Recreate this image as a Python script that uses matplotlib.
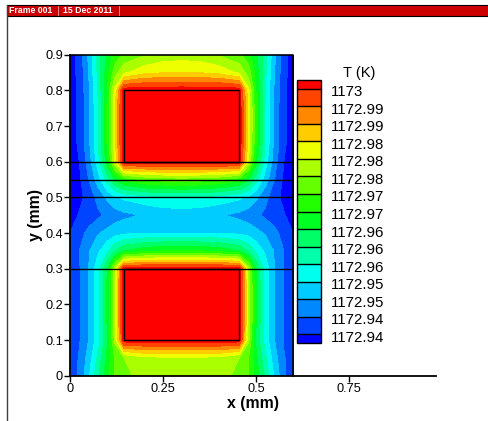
import numpy as np
import matplotlib.pyplot as plt
from matplotlib.colors import hsv_to_rgb
from matplotlib.patches import Rectangle
from matplotlib.lines import Line2D
from matplotlib.transforms import ScaledTranslation

plt.rcParams['font.family'] = ['Liberation Sans', 'DejaVu Sans']

# grid (left half, mirrored about x = 0.3)
# values are in "band units": band k lies between level k and k+1
x_half = [0, 0.025, 0.05, 0.075, 0.1, 0.12, 0.145, 0.2, 0.25, 0.3]
y_rows = [0, 0.05, 0.1, 0.15, 0.2, 0.25, 0.3, 0.35, 0.4, 0.45,
          0.5, 0.55, 0.6, 0.65, 0.7, 0.75, 0.8, 0.85, 0.9]
band_half = [
    [1.3, 2.2, 3.8, 5.8, 7.6, 9.0, 9.8, 10.3, 10.4, 10.4],
    [1.3, 2.1, 3.4, 5.2, 7.3, 9.0, 10.0, 10.7, 10.8, 10.8],
    [1.2, 1.9, 3.0, 4.5, 6.8, 10.2, 15.6, 15.7, 15.7, 15.7],
    [1.2, 1.9, 3.05, 4.6, 7.1, 10.7, 15.8, 16, 16, 16],
    [1.2, 1.9, 3.05, 4.6, 7.1, 10.7, 15.8, 16, 16, 16],
    [1.2, 1.9, 3.05, 4.6, 7.1, 10.7, 15.8, 16, 16, 16],
    [1.2, 1.9, 3.0, 4.6, 7.0, 10.5, 15.6, 15.7, 15.7, 15.7],
    [1.1, 2.0, 2.9, 3.8, 4.8, 5.9, 7.0, 7.7, 8.0, 8.0],
    [1.0, 1.6, 2.3, 2.9, 3.3, 3.6, 3.8, 3.95, 4.0, 4.0],
    [0.5, 1.1, 1.4, 1.8, 2.2, 2.5, 2.75, 3.1, 3.4, 3.5],
    [0.2, 0.7, 1.4, 2.3, 3.2, 3.8, 4.2, 4.6, 4.8, 4.85],
    [0.3, 0.8, 2.0, 3.5, 5.4, 7.0, 8.3, 9.1, 9.4, 9.5],
    [0.4, 1.0, 2.4, 4.5, 7.5, 10.8, 15.6, 15.7, 15.7, 15.7],
    [0.4, 1.2, 2.7, 4.9, 8.1, 11.6, 15.8, 16, 16, 16],
    [0.4, 1.2, 2.7, 4.9, 8.1, 11.7, 15.8, 16, 16, 16],
    [0.4, 1.2, 2.7, 4.9, 8.1, 11.7, 15.8, 16, 16, 16],
    [0.4, 1.2, 2.8, 5.0, 8.0, 11.2, 15.6, 15.7, 15.7, 15.7],
    [0.5, 1.3, 3.0, 5.2, 7.6, 9.5, 10.8, 11.7, 11.95, 12.0],
    [0.5, 1.3, 3.2, 5.4, 7.2, 8.4, 9.2, 9.9, 10.4, 10.5],
]
levels = list(range(1, 16))
level_labels = ['1172.94', '1172.94', '1172.95', '1172.95', '1172.96',
                '1172.96', '1172.96', '1172.97', '1172.97', '1172.98',
                '1172.98', '1172.98', '1172.99', '1172.99', '1173']
heaters = [(0.145, 0.1, 0.31, 0.2), (0.145, 0.6, 0.31, 0.2)]
lines_y = [0.3, 0.5, 0.55, 0.6]

# tecplot style rainbow, 16 bands from blue to red
colors = [hsv_to_rgb((240 * (15 - k) / 15 / 360, 1, 1)) for k in range(16)]

Zh = np.array(band_half)
Z = np.hstack([Zh, Zh[:, -2::-1]])
X = np.array(x_half + [0.6 - x for x in reversed(x_half[:-1])])
Y = np.array(y_rows)

W, H = 489, 421
fig = plt.figure(figsize=(W / 100, H / 100), dpi=100)
ax = fig.add_axes([70 / W, 1 - 375.7 / H, 366 / W, 321 / H])

cs = ax.contourf(X, Y, Z, levels=levels, colors=colors, extend='both')

for x0, y0, w, h in heaters:
    ax.add_patch(Rectangle((x0, y0), w, h, fill=False, ec='black', lw=1))
ax.hlines(lines_y, 0, 0.6, color='black', lw=1)
ax.plot([0, 0.6, 0.6], [0.9, 0.9, 0], color='black', lw=1.2, clip_on=False)

ax.set_xlim(0, 0.984)
ax.set_ylim(0, 0.9)
for s in ['top', 'right']:
    ax.spines[s].set_visible(False)
for s in ['left', 'bottom']:
    ax.spines[s].set_linewidth(1.3)
ax.set_xticks([0, 0.25, 0.5, 0.75])
ax.set_xticklabels(['0', '0.25', '0.5', '0.75'])
ax.set_yticks(np.arange(0, 0.91, 0.1))
ax.set_yticklabels(['0', '0.1', '0.2', '0.3', '0.4', '0.5', '0.6', '0.7', '0.8', '0.9'])
ax.tick_params(direction='out', length=4, width=1, labelsize=9.2, pad=1)
ax.set_xlabel('x (mm)', fontsize=11.4, fontweight='bold', labelpad=1)
ax.set_ylabel('y (mm)', fontsize=11.4, fontweight='bold', labelpad=2)

# legend
cax = fig.add_axes([297 / W, 1 - 343 / H, 24 / W, 263 / H])
cb = fig.colorbar(cs, cax=cax, extendrect=True, extendfrac=0.0357,
                  drawedges=True, ticks=levels)
cb.set_ticklabels(level_labels)
cb.outline.set_linewidth(1)
cb.dividers.set_linewidth(1)
cax.tick_params(length=0, labelsize=10.8, pad=7)
shift = ScaledTranslation(0, -2 / 100, fig.dpi_scale_trans)
for lab in cax.get_yticklabels():
    lab.set_transform(lab.get_transform() + shift)
fig.text(359 / W, 1 - 73 / H, 'T (K)', ha='center', va='center', fontsize=10.5)

# frame header
fig.add_artist(Rectangle((7 / W, 1 - 16 / H), 482 / W, 11 / H, transform=fig.transFigure,
                         fc='#cc0000', ec='black', lw=0.8))
fig.text(9 / W, 1 - 10.5 / H, 'Frame 001', color='white', fontsize=6.3,
         fontweight='bold', va='center')
fig.text(63 / W, 1 - 10.5 / H, '15 Dec 2011', color='white', fontsize=6.3,
         fontweight='bold', va='center')
for xs in [58, 119]:
    fig.add_artist(Line2D([xs / W, xs / W], [1 - 15 / H, 1 - 6 / H], color='#f0a0a0', lw=0.6))
fig.add_artist(Line2D([7 / W, 7 / W], [0, 1 - 5 / H], color='#404040', lw=1))

fig.savefig('out.png', dpi=100)
